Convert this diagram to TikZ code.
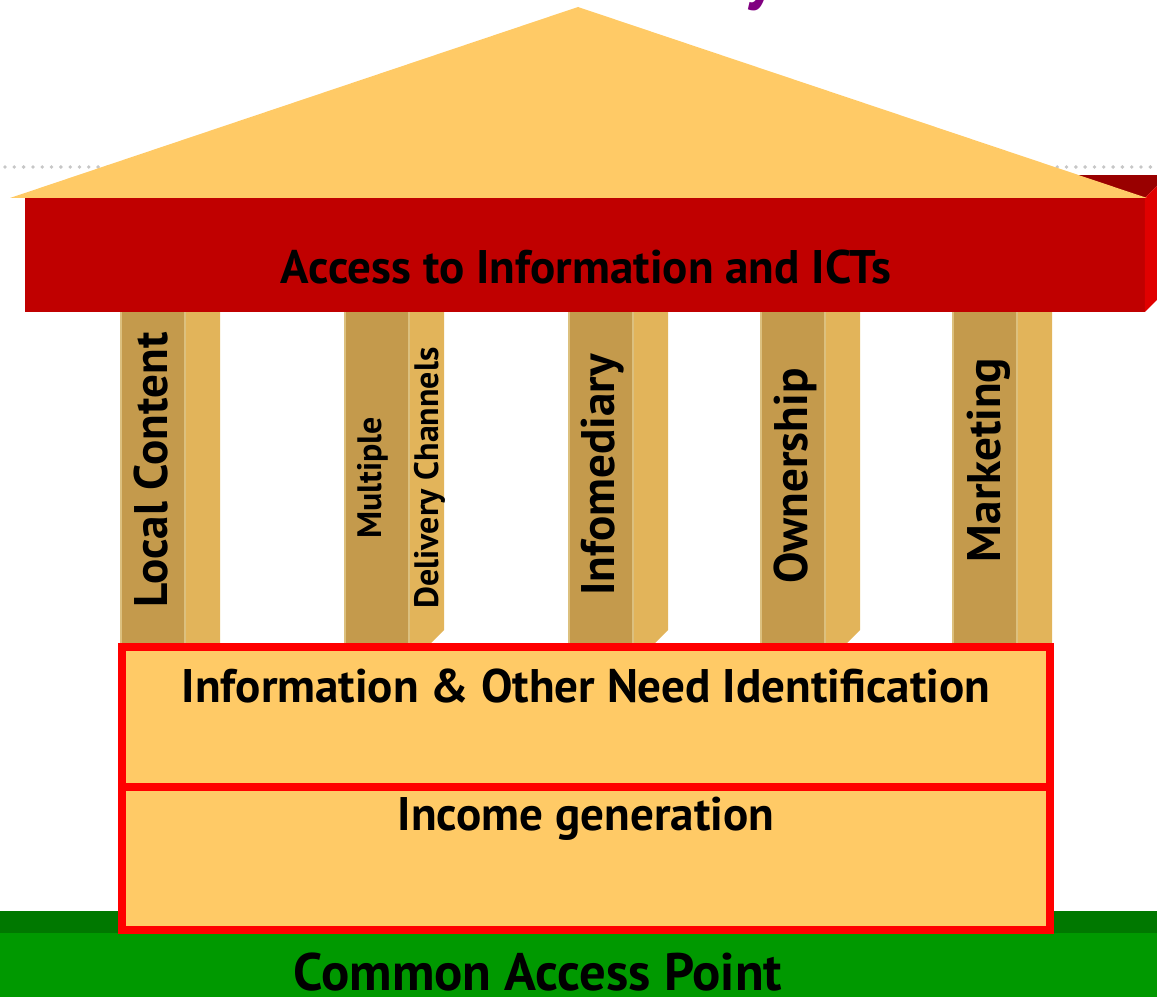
\documentclass[tikz,border=0pt]{standalone}
\usepackage{fontspec}
\setmainfont{PT Sans}
\usetikzlibrary{positioning}

\definecolor{roofyellow}{HTML}{FFCA66}
\definecolor{beamred}{HTML}{C00000}
\definecolor{beamtop}{HTML}{990000}
\definecolor{beamside}{HTML}{E00000}
\definecolor{pillarfront}{HTML}{C49A4C}
\definecolor{pillarside}{HTML}{E2B45A}
\definecolor{pillaredge}{HTML}{DCC07E}
\definecolor{grassdark}{HTML}{007800}
\definecolor{grass}{HTML}{009900}
\definecolor{titlepurple}{HTML}{800080}

\tikzset{
    bigtext/.style = {font=\bfseries\fontsize{26.8}{30}\selectfont, inner sep=0pt, anchor=base},
    pillartext/.style = {bigtext, rotate=90},
    basebox/.style = {draw=red, fill=roofyellow, line width=4.5pt,
        minimum width=18.56cm, inner sep=0pt, outer sep=0pt},
}

\begin{document}
\begin{tikzpicture}[x=0.02cm, y=-0.02cm]
    \useasboundingbox (0,0) rectangle (1157,997);
    \clip (0,0) rectangle (1157,997);

    % dotted rule of the slide behind the house
    \draw[black!22, line width=2.2pt, line cap=round, dash pattern=on 0pt off 5.3pt]
        (5,167) -- (1157,167);
    \node[titlepurple, font=\bfseries\fontsize{40}{40}\selectfont, anchor=south, inner sep=0pt]
        (title) at (760,11) {y};

    % beam with its top and side faces
    \node[fill=beamred, minimum width=22.4cm, minimum height=2.28cm,
        inner sep=0pt, outer sep=0pt] (beam) at (585,255) {};
    \fill[beamtop] (beam.north) -- ++(0,-23) -- ++(583,0) -- (beam.north east) -- cycle;
    \fill[beamside] (beam.north east) -- ++(23,-23) -- ++(0,114) -- (beam.south east) -- cycle;

    % roof
    \fill[roofyellow] (10,198) -- (578,7) -- (1147,198) -- cycle;
    \node[bigtext] (access) at (586,283) {Access to Information and ICTs};

    % pillars, the middle three have a bevelled foot
    \foreach \x/\cut in {121/0, 345/13, 569/13, 761/13, 953/0} {
        \fill[pillarfront] (\x,312) rectangle ++(64,331);
        \fill[pillarside] (\x+64,312) -- ++(35,0) -- (\x+99,643-\cut)
            -- (\x+99-\cut,643) -- (\x+64,643) -- cycle;
        \draw[pillaredge, line width=0.7pt] (\x,312) -- (\x,643)
            (\x+64,312) -- (\x+64,643);
    }
    \node[pillartext] (local) at (167,470) {Local Content};
    \node[pillartext, font=\bfseries\fontsize{19.3}{32.3}\selectfont, align=center]
        (channels) at (438,478) {Multiple\\Delivery Channels};
    \node[pillartext] (infomed) at (614,475) {Infomediary};
    \node[pillartext] (owner) at (807,476) {Ownership};
    \node[pillartext] (market) at (1000,460) {Marketing};

    % ground
    \fill[grassdark] (0,911) rectangle (1157,934);
    \fill[grass] (0,933) rectangle (1157,997);
    \node[bigtext, font=\bfseries\fontsize{30}{32}\selectfont] (cap) at (538,990) {Common Access Point};

    % foundation
    \node[basebox, minimum height=2.81cm] (needbox) at (586,717) {};
    \node[basebox, minimum height=2.85cm] (incomebox) at (586,858.75) {};
    \node[bigtext] (need) at (586,702) {Information \& Other Need Identification};
    \node[bigtext] (income) at (586,830) {Income generation};
\end{tikzpicture}
\end{document}
